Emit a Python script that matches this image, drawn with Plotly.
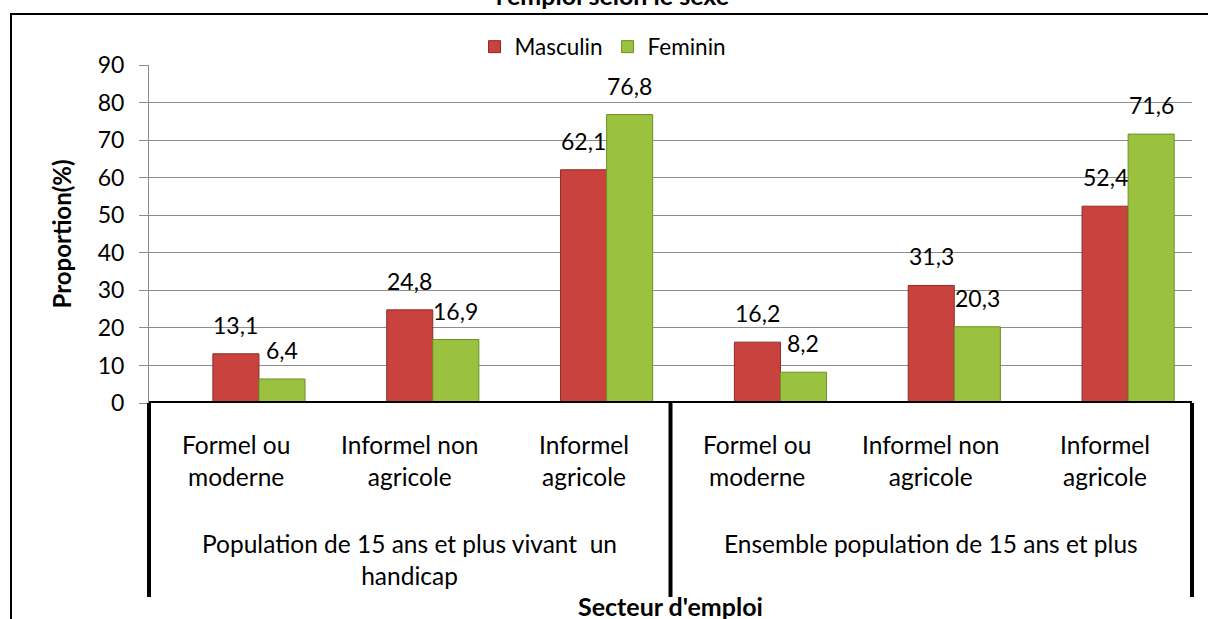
import plotly.graph_objects as go

group_labels = ["Population de 15 ans et plus vivant  un<br>handicap",
                "Ensemble population de 15 ans et plus"]
sector_labels = ["Formel ou<br>moderne", "Informel non<br>agricole", "Informel<br>agricole"]
groups = [g for g in group_labels for _ in sector_labels]
cats = sector_labels * len(group_labels)
masculin = [13.1, 24.8, 62.1, 16.2, 31.3, 52.4]
feminin = [6.4, 16.9, 76.8, 8.2, 20.3, 71.6]
series_names = ["Masculin", "Feminin"]
y_ticks = list(range(0, 91, 10))

W, H = 1208, 619
L, R, T, B = 149, 1192, 65, 403
FONT = "Lato"
RED = "#C9423E"
GREEN = "#9BC23F"
BAR_W = 0.265  # bar width in category units


def px_x(px):
    return (px - L) / (R - L)


def px_y(py):
    return (B - py) / (B - T)


def fmt(v):
    return f"{v:.1f}".replace(".", ",")


fig = go.Figure()
fig.add_trace(go.Bar(
    x=[groups, cats], y=masculin, name=series_names[0], width=BAR_W, offset=-BAR_W / 2,
    marker=dict(color=RED, line=dict(color="#8E2B28", width=1)),
))
fig.add_trace(go.Bar(
    x=[groups, cats], y=feminin, name=series_names[1], width=BAR_W, offset=BAR_W / 2,
    marker=dict(color=GREEN, line=dict(color="#6E8E2A", width=1)),
))

annotations = []
# data labels
for i, (m, f) in enumerate(zip(masculin, feminin)):
    for xc, v in ((i, m), (i + BAR_W, f)):
        annotations.append(dict(
            x=xc, y=v, xref="x", yref="y", text=fmt(v), showarrow=False,
            yanchor="bottom", yshift=13, font=dict(family=FONT, size=23, color="black"),
        ))

# category labels (two levels)
for i, c in enumerate(cats):
    annotations.append(dict(
        x=i, y=px_y(428), xref="x", yref="paper", yanchor="top", text=c, showarrow=False,
        font=dict(family=FONT, size=24.5, color="black"),
    ))
n = len(sector_labels)
for gi, g in enumerate(group_labels):
    annotations.append(dict(
        x=gi * n + (n - 1) / 2, y=px_y(527), xref="x", yref="paper", yanchor="top",
        text=g, showarrow=False, font=dict(family=FONT, size=24.5, color="black"),
    ))

# cropped title
annotations.append(dict(
    x=px_x(612), y=px_y(12), xref="paper", yref="paper", yanchor="bottom",
    text="<b>l'emploi selon le sexe</b>", showarrow=False,
    font=dict(family=FONT, size=25, color="black"),
))
# x-axis title
annotations.append(dict(
    x=0.5, y=px_y(606), xref="paper", yref="paper", yanchor="middle",
    text="<b>Secteur d'emploi</b>", showarrow=False,
    font=dict(family=FONT, size=25, color="black"),
))

shapes = [
    # outer frame (cropped)
    dict(type="rect", xref="paper", yref="paper", x0=px_x(11), x1=px_x(1240),
         y0=px_y(660), y1=px_y(14), line=dict(color="black", width=2), layer="below"),
    # zero baseline
    dict(type="line", xref="paper", yref="y", x0=0, x1=1, y0=0, y1=0,
         line=dict(color="black", width=4)),
]
for xp in (0, 0.5, 1):
    shapes.append(dict(type="line", xref="paper", yref="paper", x0=xp, x1=xp,
                       y0=0, y1=px_y(597), line=dict(color="black", width=4)))

fig.update_layout(
    width=W, height=H,
    margin=dict(l=L, r=W - R, t=T, b=H - B),
    paper_bgcolor="white", plot_bgcolor="white",
    barmode="overlay",
    font=dict(family=FONT, size=22, color="black"),
    showlegend=True,
    legend=dict(orientation="h", x=px_x(603), xanchor="center", y=px_y(47), yanchor="middle",
                font=dict(family=FONT, size=22.5), itemwidth=30, tracegroupgap=0,
                bgcolor="rgba(0,0,0,0)"),
    xaxis=dict(type="multicategory", showdividers=False, showgrid=False, showline=False,
               ticks="", showticklabels=False, range=[-0.5, len(cats) - 0.5]),
    yaxis=dict(range=[0, 90], tickvals=y_ticks, showgrid=True, gridcolor="#8C8C8C", gridwidth=1,
               showline=True, linecolor="#8C8C8C", linewidth=1, ticks="outside", ticklen=9,
               tickcolor="#8C8C8C", zeroline=False, ticklabelstandoff=10, automargin=False,
               tickfont=dict(family=FONT, size=23, color="black"),
               title=dict(text="<b>Proportion(%)</b>", font=dict(family=FONT, size=24), standoff=19)),
    annotations=annotations,
    shapes=shapes,
)

fig.write_html("out.html", config={"displayModeBar": False},
               post_script="document.body.style.margin='0';")
